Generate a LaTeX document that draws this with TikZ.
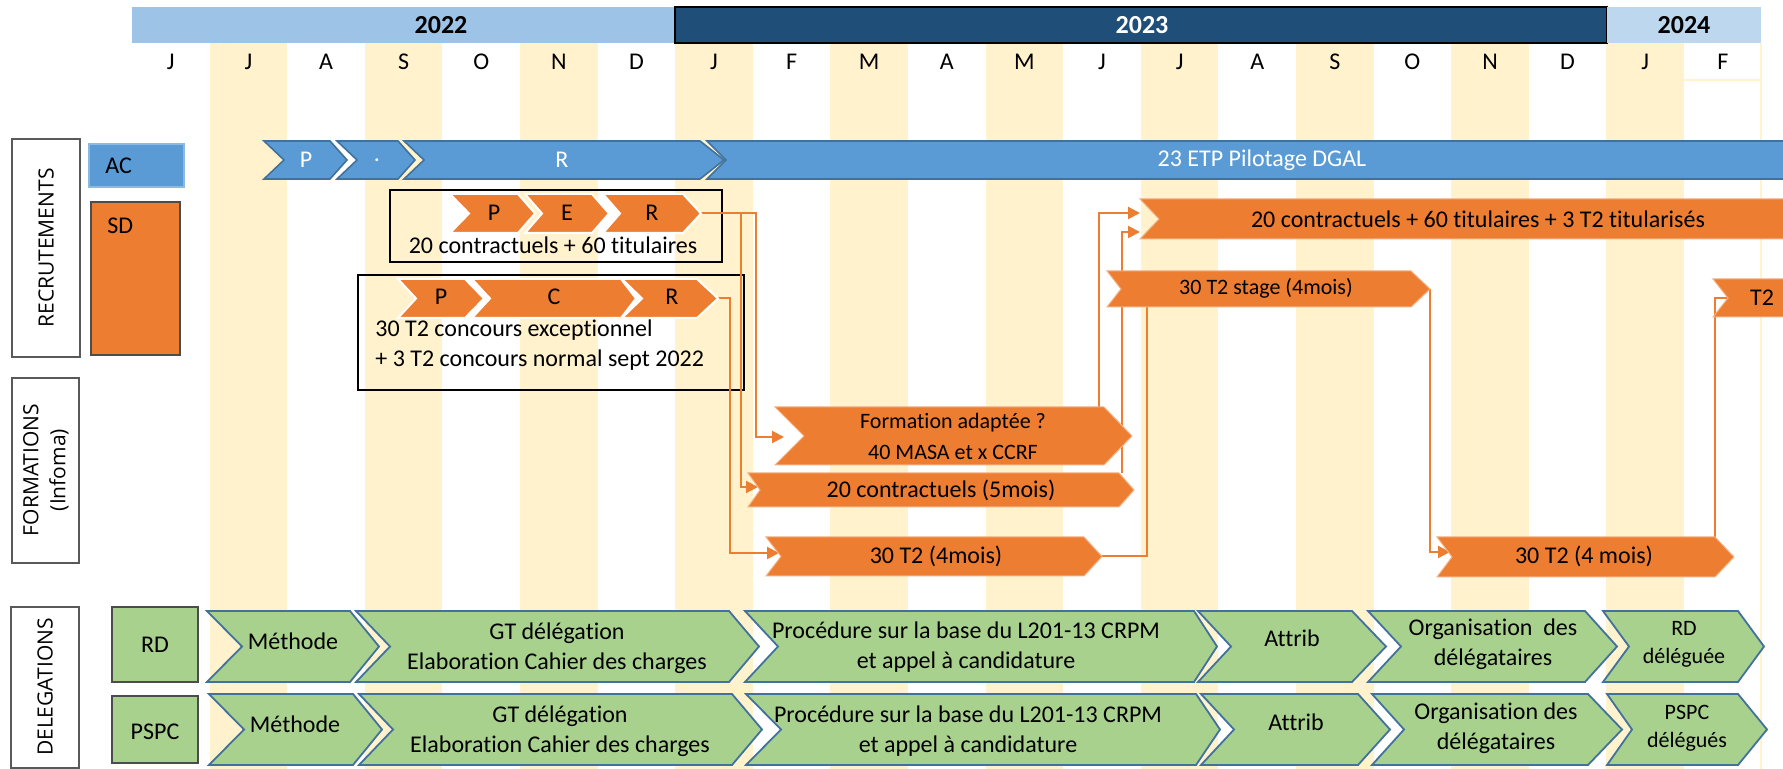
\documentclass[tikz,border=0pt]{standalone}
\usepackage{fontspec}
\setmainfont{Carlito}[Ligatures=NoCommon]
\newfontfamily\labfont{Open Sans}
\usetikzlibrary{arrows.meta}
\definecolor{orng}{HTML}{ED7D31}
\definecolor{acblue}{HTML}{5B9BD5}
\definecolor{acline}{HTML}{41719C}
\definecolor{grn}{HTML}{A9D18E}
\definecolor{stripe}{HTML}{FFF2CC}
\definecolor{yrA}{HTML}{9DC3E6}
\definecolor{yrB}{HTML}{1F4E79}
\definecolor{yrC}{HTML}{BDD7EE}
\definecolor{boxline}{HTML}{595959}
\newcommand{\chevpath}[7]{\path[#1] (#2,#6) -- (#4,#6) -- (#5,{(#6+#7)/2}) -- (#4,#7) -- (#2,#7) -- (#3,{(#6+#7)/2}) -- cycle;}
\begin{document}
\begin{tikzpicture}[x=0.5pt,y=-0.5pt,
  txt/.style={font=\fontsize{12}{15}\selectfont, inner sep=0pt, align=center},
  stxt/.style={font=\fontsize{11}{14}\selectfont, inner sep=0pt, align=center},
  wtxt/.style={txt, text=white},
  monthlab/.style={font=\fontsize{12}{14}\selectfont, inner sep=0pt},
  yearlab/.style={font=\bfseries\fontsize{13}{15}\selectfont, inner sep=0pt},
  sidelab/.style={font=\labfont\fontsize{10.5}{13.5}\selectfont, inner sep=0pt, rotate=90, align=center},
  conn/.style={draw=orng, line width=1pt},
  arr/.style={conn, -{Triangle[length=6pt,width=6pt]}},
  acchev/.style={fill=acblue, draw=acline, line width=0.8pt},
  sdchev/.style={fill=orng, draw=white, line width=1pt},
  orchev/.style={fill=orng, draw=orng!60!white, line width=0.5pt},
  gchev/.style={fill=grn, draw=acline, line width=0.9pt},
  labbox/.style={draw=boxline, fill=white, line width=0.7pt},
  blackbox/.style={draw=black, line width=1pt}
]
\useasboundingbox (0,0) rectangle (1783,769);
\begin{scope}
\clip (0,0) rectangle (1783,769);
% stripes
\foreach \i in {1,3,...,19} {\fill[stripe] ({132+77.6*\i},43) rectangle ({132+77.6*(\i+1)},769);}
\draw[stripe, line width=0.6pt] (1684,80) -- (1761,80);
\draw[stripe, line width=0.6pt] (1761,43) -- (1761,769);
% header
\fill[yrA] (132,7) rectangle (675,43);
\draw[fill=yrB, draw=black, line width=0.6pt] (675,7) rectangle (1607,43);
\fill[yrC] (1607,7) rectangle (1761,43);
\node[yearlab] (y2022) at (441,25) {2022};
\node[yearlab, text=white] (y2023) at (1142,25) {2023};
\node[yearlab] (y2024) at (1684,25) {2024};
\foreach \m [count=\i from 0] in {J,J,A,S,O,N,D,J,F,M,A,M,J,J,A,S,O,N,D,J,F} {\node[monthlab] (m\i) at ({132+77.6*(\i+0.5)},62) {\m};}
% side labels
\draw[labbox] (12,139) rectangle (80,357);
\node[sidelab] (recl) at (46,248) {RECRUTEMENTS};
\draw[labbox] (12,378) rectangle (79,563);
\node[sidelab] (forml) at (46,470) {FORMATIONS\\(Infoma)};
\draw[labbox] (11,607) rectangle (79,768);
\node[sidelab] (dell) at (45,687) {DELEGATIONS};
\draw[fill=acblue, draw=acblue!70!white, line width=0.6pt] (89,144) rectangle (184,187);
\node[txt, anchor=west] (acl) at (105,166) {AC};
\draw[fill=orng, draw=black!70, line width=0.6pt] (91,202) rectangle (180,355);
\node[txt, anchor=west] (sdl) at (107,226) {SD};
\draw[fill=grn, draw=black!70, line width=0.6pt] (112,607) rectangle (198,682);
\node[txt] (rdl) at (155,645) {RD};
\draw[fill=grn, draw=black!70, line width=0.6pt] (112,696) rectangle (198,763);
\node[txt] (pspcl) at (155,732) {PSPC};
% SD boxes
\draw[blackbox] (390,190) rectangle (722,262);
\draw[blackbox] (358,275) rectangle (744,390);
% connector coordinates
\coordinate (r1tip) at (701,213.5);
\coordinate (j1) at (756,213.5);
\coordinate (j2) at (741,213.5);
\coordinate (formin) at (784,437);
\coordinate (c20in) at (758,487);
\coordinate (r2tip) at (718,298.5);
\coordinate (j3) at (730,298.5);
\coordinate (t2in) at (779,553);
\coordinate (fout) at (1099,407);
\coordinate (bigin1) at (1140,213);
\coordinate (c20out) at (1122,473);
\coordinate (bigin2) at (1140,232);
\coordinate (t2tip) at (1102,556.5);
\coordinate (stagebot) at (1147,307);
\coordinate (stagetip) at (1430,289);
\coordinate (t24in) at (1450,552);
\coordinate (t24out) at (1715,537);
\coordinate (t2rin) at (1728,298);
% connectors
\draw[arr] (r1tip) -- (j1) |- (formin);
\draw[arr] (j2) |- (c20in);
\draw[arr] (r2tip) -- (j3) |- (t2in);
\draw[arr] (fout) |- (bigin1);
\draw[arr] (c20out) |- (bigin2);
\draw[conn] (t2tip) -| (stagebot);
\draw[arr] (stagetip) |- (t24in);
\draw[conn] (t24out) |- (t2rin);
% AC chevrons
\chevpath{acchev}{264}{284}{330}{347}{141}{179}
\chevpath{acchev}{337}{357}{398}{415}{141}{179}
\chevpath{acchev}{404}{424}{700}{724}{141}{179}
\chevpath{acchev}{707}{726}{1800}{1800}{141}{179}
\node[wtxt] (acp) at (306,160) {P};
\node[wtxt] (acdot) at (377,160) {.};
\node[wtxt] (acr) at (562,160) {R};
\node[wtxt] (acetp) at (1262,160) {23 ETP Pilotage DGAL};
% SD row 1
\chevpath{sdchev}{450}{469}{518}{535}{194}{233}
\chevpath{sdchev}{525}{542}{592}{609}{194}{233}
\chevpath{sdchev}{603}{620}{683}{701}{194}{233}
\node[txt] (s1p) at (494,213) {P};
\node[txt] (s1e) at (567,213) {E};
\node[txt] (s1r) at (652,213) {R};
\node[txt] (s1t) at (553,245) {20 contractuels + 60 titulaires};
% SD row 2
\chevpath{sdchev}{398}{416}{465}{484}{279}{318}
\chevpath{sdchev}{472}{490}{621}{636}{279}{318}
\chevpath{sdchev}{622}{642}{697}{718}{279}{318}
\node[txt] (s2p) at (441,297) {P};
\node[txt] (s2c) at (554,297) {C};
\node[txt] (s2r) at (672,297) {R};
\node[txt, anchor=west] (s2t1) at (375,330) {30 T2 concours exceptionnel};
\node[txt, anchor=west] (s2t2) at (375,360) {+ 3 T2 concours normal sept 2022};
% right orange bars
\chevpath{orchev}{1140}{1159}{1800}{1800}{199}{239}
\node[txt] (big) at (1478,219) {20 contractuels + 60 titulaires + 3 T2 titularisés};
\chevpath{orchev}{1107}{1121}{1411}{1430}{271}{307}
\node[stxt] (stage) at (1266,288) {30 T2 stage (4mois)};
\chevpath{orchev}{1713}{1728}{1800}{1800}{279}{317}
\node[txt] (t2r) at (1762,298) {T2};
% formations
\chevpath{orchev}{775}{804}{1104}{1132}{407}{465}
\node[stxt] (form1) at (953,423) {Formation adaptée ?};
\node[stxt] (form2) at (953,452) {40 MASA et x CCRF};
\chevpath{orchev}{748}{760}{1119}{1134}{473}{507}
\node[txt] (c20) at (941,490) {20 contractuels (5mois)};
\chevpath{orchev}{766}{781}{1084}{1102}{537}{576}
\node[txt] (t2a) at (936,556) {30 T2 (4mois)};
\chevpath{orchev}{1437}{1452}{1715}{1734}{537}{577}
\node[txt] (t2b) at (1584,556) {30 T2 (4 mois)};
% delegations RD
\chevpath{gchev}{207}{242}{350}{379}{611}{682}
\node[txt] (rd1) at (293,641) {Méthode};
\chevpath{gchev}{356}{390}{729}{759}{611}{682}
\node[txt] (rd2) at (557,648) {GT délégation\\Elaboration Cahier des charges};
\chevpath{gchev}{745}{778}{1194}{1217}{611}{682}
\node[txt] (rd3) at (966,647) {Procédure sur la base du L201-13 CRPM\\et appel à candidature};
\chevpath{gchev}{1198}{1231}{1352}{1386}{611}{682}
\node[txt] (rd4) at (1292,638) {Attrib};
\chevpath{gchev}{1368}{1401}{1585}{1617}{611}{682}
\node[txt] (rd5) at (1493,644) {Organisation\ \ des\\délégataires};
\chevpath{gchev}{1603}{1629}{1738}{1764}{611}{682}
\node[stxt] (rd6) at (1684,644) {RD\\déléguée};
% delegations PSPC
\chevpath{gchev}{209}{244}{353}{382}{694}{765}
\node[txt] (ps1) at (295,724) {Méthode};
\chevpath{gchev}{359}{393}{732}{762}{694}{765}
\node[txt] (ps2) at (560,731) {GT délégation\\Elaboration Cahier des charges};
\chevpath{gchev}{746}{781}{1196}{1220}{694}{765}
\node[txt] (ps3) at (968,731) {Procédure sur la base du L201-13 CRPM\\et appel à candidature};
\chevpath{gchev}{1201}{1234}{1358}{1390}{694}{765}
\node[txt] (ps4) at (1296,722) {Attrib};
\chevpath{gchev}{1372}{1404}{1588}{1622}{694}{765}
\node[txt] (ps5) at (1496,728) {Organisation des\\délégataires};
\chevpath{gchev}{1607}{1632}{1738}{1767}{694}{765}
\node[stxt] (ps6) at (1687,728) {PSPC\\délégués};
\end{scope}
\end{tikzpicture}
\end{document}
